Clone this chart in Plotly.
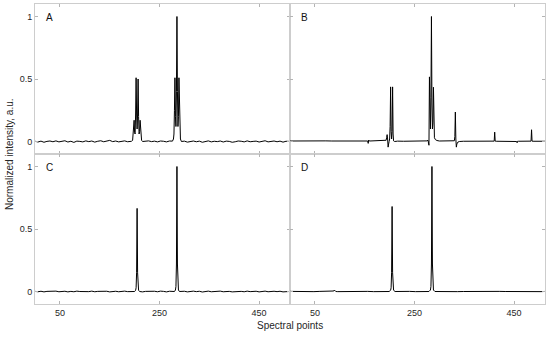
import plotly.graph_objects as go
from plotly.subplots import make_subplots

# ---------------- data ----------------
panel_labels = ["A", "B", "C", "D"]
x_ticks = [50, 250, 450]
y_ticks = [0, 0.5, 1]
y_tick_text = ["0", "0.5", "1"]

# baselines: values sampled every FINE_STEP / COARSE_STEP spectral points from 0
FINE_STEP = 6
COARSE_STEP = 12

A_base = [
    0.002, -0.004, 0.003, -0.006, 0.001, 0.004, -0.002, 0.005, -0.003, 0.000,
    0.006, -0.004, 0.002, -0.007, 0.003, 0.001, -0.003, 0.005, -0.001, 0.004,
    -0.005, 0.002, 0.006, -0.002, 0.003, 0.009, -0.001, 0.004, -0.003, 0.002,
    0.005, -0.002, 0.001, 0.003, -0.002, 0.004, -0.004, 0.002, 0.005, -0.001,
    0.003, -0.003, 0.004, 0.002, -0.003, 0.004, -0.002, 0.006, -0.004, 0.001,
    0.003, -0.005, 0.002, 0.004, -0.002, 0.003, -0.006, 0.001, 0.005, -0.003,
    0.002, -0.001, 0.004, -0.004, 0.003, 0.001, -0.006, -0.002, 0.004, 0.002,
    -0.003, 0.005, -0.002, 0.001, 0.003, -0.004, 0.002, 0.006, -0.003, 0.001,
    0.004, -0.002, 0.003, -0.005, 0.002, 0.001, 0.002,
]
A_quartet_x = [194, 196, 197, 198, 199, 200, 201, 202, 203, 204, 205, 206, 207, 208, 209, 210, 211, 212, 213, 214, 216]
A_quartet_y = [0.002, 0.01, 0.05, 0.12, 0.17, 0.07, 0.06, 0.22, 0.51, 0.22, 0.10, 0.22, 0.50, 0.20, 0.06, 0.08, 0.17, 0.10, 0.04, 0.01, 0.0]
A_triplet_x = [276, 278, 279, 280, 281, 282, 283, 284, 285, 286, 287, 288, 289, 290, 291, 292, 294]
A_triplet_y = [0.003, 0.02, 0.06, 0.25, 0.51, 0.20, 0.12, 0.40, 1.0, 0.40, 0.12, 0.20, 0.51, 0.25, 0.06, 0.02, 0.0]

B_base = [
    0.004, 0.005, 0.004, 0.005, 0.004, 0.005, 0.005, 0.004, 0.005, 0.004,
    0.005, 0.004, 0.005, 0.004, 0.005, 0.006, 0.005, 0.004, 0.003, 0.002,
    0.002, 0.003, 0.003, 0.004, 0.005, 0.004, 0.003, 0.002, 0.002, 0.002,
    0.002, 0.002, 0.003, 0.002, 0.002, 0.002, 0.003, 0.002, 0.002, 0.002,
    0.002, 0.002, 0.002, 0.002,
]
B_blip1_x = [155, 156, 157, 158, 159, 160]
B_blip1_y = [0.005, 0.004, -0.015, 0.012, 0.004, 0.004]
B_doublet_x = [190, 193, 194, 195, 196, 197, 198, 199, 200, 201, 202, 203, 204, 205, 206, 207, 208, 210]
B_doublet_y = [0.005, 0.01, 0.03, 0.055, 0.02, -0.045, -0.02, 0.0, 0.02, 0.12, 0.437, 0.08, 0.02, 0.08, 0.437, 0.06, 0.005, 0.0]
B_triplet_x = [270, 275, 277, 278, 279, 280, 281, 282, 283, 284, 285, 286, 287, 288, 289, 290, 292, 295, 300]
B_triplet_y = [0.003, 0.005, 0.01, -0.005, -0.03, 0.517, 0.15, 0.10, 0.35, 1.0, 0.30, 0.10, 0.15, 0.434, 0.08, 0.03, 0.015, 0.008, 0.004]
B_peak332_x = [326, 330, 331, 332, 333, 334, 335, 337, 340]
B_peak332_y = [0.003, 0.006, 0.04, 0.236, 0.02, -0.045, -0.02, -0.005, 0.0]
B_peak411_x = [408, 410, 411, 412, 414]
B_peak411_y = [0.002, 0.003, 0.075, 0.003, 0.002]
B_dip456_x = [453, 455, 456, 457, 459]
B_dip456_y = [0.002, 0.0, -0.01, 0.002, 0.002]
B_peak485_x = [482, 484, 485, 486, 488]
B_peak485_y = [0.002, 0.003, 0.094, 0.003, 0.002]

C_base = [
    0.001, -0.002, 0.002, -0.003, 0.001, 0.002, -0.001, 0.003, -0.002, 0.000,
    0.002, -0.003, 0.001, -0.002, 0.003, 0.000, -0.002, 0.002, -0.001, 0.003,
    -0.002, 0.001, 0.003, -0.001, 0.002, -0.003, 0.001, 0.002, -0.002, 0.001,
    0.003, -0.001, 0.000, 0.002, -0.002, 0.003, -0.003, 0.001, 0.002, -0.001,
    0.002, -0.002, 0.003, 0.001, -0.003, 0.002, -0.001, 0.003, -0.002, 0.001,
    0.002, -0.003, 0.001, 0.003, -0.001, 0.002, -0.004, 0.001, 0.003, -0.002,
    0.001, -0.001, 0.003, -0.002, 0.002, 0.001, -0.003, -0.001, 0.002, 0.001,
    -0.002, 0.003, -0.001, 0.001, 0.002, -0.003, 0.001, 0.003, -0.002, 0.001,
    0.002, -0.001, 0.002, -0.003, 0.001, 0.000, 0.001,
]
C_peak1_x = [200, 202, 203, 204, 205, 206, 207, 208, 210]
C_peak1_y = [0.0, 0.01, 0.03, 0.15, 0.665, 0.15, 0.03, 0.01, 0.0]
C_peak2_x = [280, 282, 283, 284, 285, 286, 287, 288, 290]
C_peak2_y = [0.0, 0.012, 0.04, 0.22, 1.0, 0.22, 0.04, 0.012, 0.0]

D_base = [
    0.001, -0.001, 0.001, 0.000, -0.001, 0.001, 0.000, 0.001, -0.001, 0.000,
    0.001, -0.001, 0.000, 0.001, -0.001, 0.001, 0.000, -0.001, 0.001, 0.000,
    0.001, -0.001, 0.001, 0.000, -0.001, 0.001, 0.000, 0.001, -0.001, 0.000,
    0.001, -0.001, 0.000, 0.001, -0.001, 0.001, 0.000, -0.001, 0.001, 0.000,
    0.001, 0.000, -0.001, 0.001,
]
D_blip_x = [86, 88, 89, 90, 92]
D_blip_y = [0.0, 0.004, 0.012, 0.004, 0.0]
D_peak1_x = [199, 202, 203, 204, 205, 206, 207, 208, 211]
D_peak1_y = [0.0, 0.01, 0.03, 0.15, 0.68, 0.15, 0.03, 0.01, 0.0]
D_peak2_x = [279, 282, 283, 284, 285, 286, 287, 288, 291]
D_peak2_y = [0.0, 0.012, 0.04, 0.22, 1.0, 0.22, 0.04, 0.012, 0.0]


def build(base, step, features):
    spans = [(min(fx), max(fx)) for fx, _ in features]
    pts = []
    for i, v in enumerate(base):
        x = i * step
        if any(a <= x <= b for a, b in spans):
            continue
        pts.append((x, v))
    for fx, fy in features:
        pts.extend(zip(fx, fy))
    pts.sort()
    return [p[0] for p in pts], [p[1] for p in pts]


panels = [
    build(A_base, FINE_STEP, [(A_quartet_x, A_quartet_y), (A_triplet_x, A_triplet_y)]),
    build(B_base, COARSE_STEP, [(B_blip1_x, B_blip1_y), (B_doublet_x, B_doublet_y),
                                (B_triplet_x, B_triplet_y), (B_peak332_x, B_peak332_y),
                                (B_peak411_x, B_peak411_y), (B_dip456_x, B_dip456_y),
                                (B_peak485_x, B_peak485_y)]),
    build(C_base, FINE_STEP, [(C_peak1_x, C_peak1_y), (C_peak2_x, C_peak2_y)]),
    build(D_base, COARSE_STEP, [(D_blip_x, D_blip_y), (D_peak1_x, D_peak1_y), (D_peak2_x, D_peak2_y)]),
]

# ---------------- figure ----------------
fig = make_subplots(rows=2, cols=2, horizontal_spacing=0, vertical_spacing=0)
positions = [(1, 1), (1, 2), (2, 1), (2, 2)]
for (r, c), (xs, ys) in zip(positions, panels):
    fig.add_trace(go.Scatter(x=xs, y=ys, mode="lines",
                             line=dict(color="black", width=1), hoverinfo="skip"),
                  row=r, col=c)

frame = dict(ticks="inside", ticklen=3, tickwidth=1, tickcolor="#b4b4b4",
             showline=True, linecolor="#cdcdcd", linewidth=1, mirror="ticks",
             showgrid=False, zeroline=False, automargin=False,
             tickfont=dict(size=9, color="#262626"))
fig.update_xaxes(range=[0, 512], tickvals=x_ticks, **frame)
fig.update_yaxes(range=[-0.1, 1.1], tickvals=y_ticks, ticktext=y_tick_text, **frame)
fig.update_xaxes(showticklabels=False, row=1)
fig.update_yaxes(showticklabels=False, col=2)

# panel letters
axis_names = [("x", "y"), ("x2", "y2"), ("x3", "y3"), ("x4", "y4")]
for lab, (xa, ya) in zip(panel_labels, axis_names):
    fig.add_annotation(text=lab, xref=f"{xa} domain", yref=f"{ya} domain",
                       x=0.055, y=0.913, xanchor="center", yanchor="middle",
                       showarrow=False, font=dict(size=10, color="#111111"))

fig.add_annotation(text="Spectral points", xref="paper", yref="paper",
                   x=0.5, y=-0.073, xanchor="center", yanchor="middle",
                   showarrow=False, font=dict(size=10, color="#262626"))
fig.add_annotation(text="Normalized intensity, a.u.", xref="paper", yref="paper",
                   x=-0.051, y=0.5, xanchor="center", yanchor="middle", textangle=-90,
                   showarrow=False, font=dict(size=10, color="#262626"))

fig.update_layout(width=550, height=337,
                  margin=dict(l=35, r=5, t=4, b=33, autoexpand=False),
                  plot_bgcolor="white", paper_bgcolor="white", showlegend=False,
                  hovermode=False,
                  font=dict(family="Liberation Sans, Arial, Helvetica, sans-serif", size=10, color="#262626"))

fig.write_html("out.html",
               config={"displayModeBar": False, "staticPlot": True},
               post_script="document.body.style.margin='0';document.body.style.overflow='hidden';")
